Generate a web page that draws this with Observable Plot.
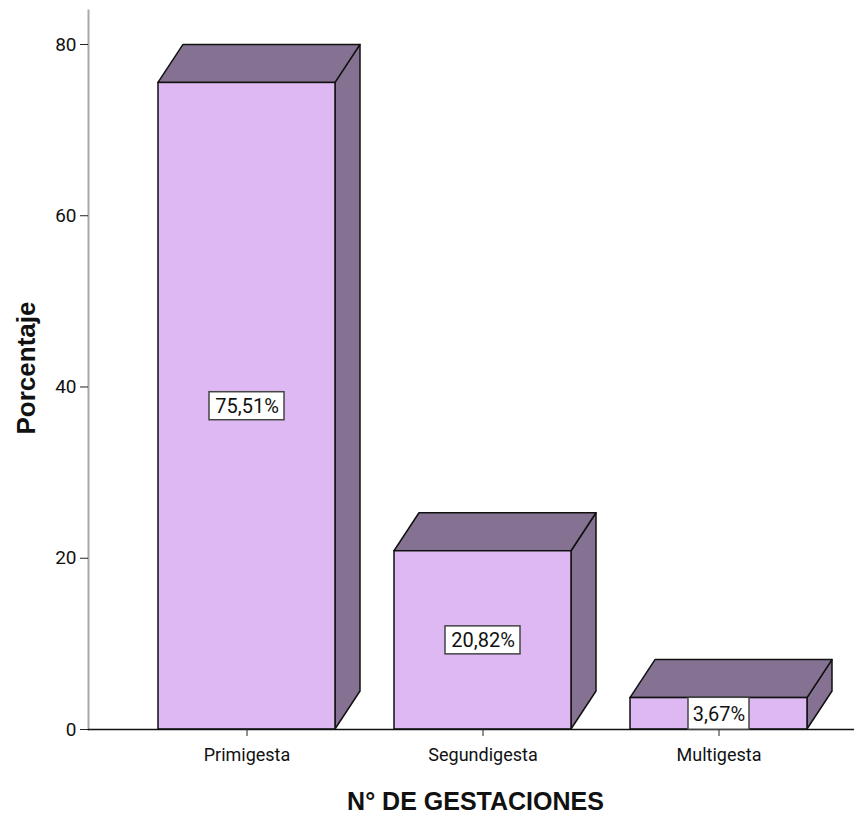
<!DOCTYPE html>
<html>
<head>
<meta charset="utf-8">
<script src="https://cdn.jsdelivr.net/npm/d3@7"></script>
<script src="https://cdn.jsdelivr.net/npm/@observablehq/plot@0.6"></script>
<style>
  html, body { margin: 0; padding: 0; background: #fff; }
  svg { display: block; }
</style>
</head>
<body>
<div id="chart"></div>
<script>
const categories = ["Primigesta", "Segundigesta", "Multigesta"];
const percentages = [75.51, 20.82, 3.67];
const valueLabels = ["75,51%", "20,82%", "3,67%"];
const yTicks = [0, 20, 40, 60, 80];
const xTitle = "N° DE GESTACIONES";
const yTitle = "Porcentaje";

const data = categories.map((c, i) => ({category: c, value: percentages[i], label: valueLabels[i]}));

const FRONT = "#ddb8f2";
const DARK = "#857292";
const DEPTH_X = 25, DEPTH_Y = -38;

// custom 3D bar mark: draws top and side faces, then the front face
function bars3d(index, scales, values, dimensions) {
  const g = d3.create("svg:g");
  const y0 = scales.y(0);
  const bw = scales.scales.x.bandwidth;
  for (const d of data) {
    const x0 = scales.x(d.category);
    const x1 = x0 + bw;
    const y1 = scales.y(d.value);
    const side = [[x1, y1], [x1 + DEPTH_X, y1 + DEPTH_Y], [x1 + DEPTH_X, y0 + DEPTH_Y], [x1, y0]];
    const top = [[x0, y1], [x0 + DEPTH_X, y1 + DEPTH_Y], [x1 + DEPTH_X, y1 + DEPTH_Y], [x1, y1]];
    for (const poly of [side, top]) {
      g.append("polygon")
        .attr("points", poly.map(p => p.join(",")).join(" "))
        .attr("fill", DARK).attr("stroke", "#111").attr("stroke-width", 1.5)
        .attr("stroke-linejoin", "round");
    }
    g.append("rect")
      .attr("x", x0).attr("y", y1).attr("width", bw).attr("height", y0 - y1)
      .attr("fill", FRONT).attr("stroke", "#111").attr("stroke-width", 1.5);
  }
  return g.node();
}

// label position: middle of the bar, kept inside the bar's bottom for short bars
function labelY(scales, d) {
  return Math.min(scales.y(d.value / 2), scales.y(0) - 15);
}

// label boxes behind the value labels
function labelBoxes(index, scales) {
  const g = d3.create("svg:g");
  const bw = scales.scales.x.bandwidth;
  for (const d of data) {
    const cx = scales.x(d.category) + bw / 2;
    const cy = labelY(scales, d);
    const w = d.label.length > 5 ? 75 : 61;
    const h = d.label.length > 5 ? 28 : 32;
    g.append("rect")
      .attr("x", cx - w / 2).attr("y", cy - h / 2).attr("width", w).attr("height", h)
      .attr("fill", "#fff").attr("stroke", "#444").attr("stroke-width", 1.5);
  }
  return g.node();
}

const chart = Plot.plot({
  width: 854,
  height: 821,
  marginTop: 10,
  marginBottom: 92,
  marginLeft: 88,
  marginRight: 0,
  style: {fontFamily: "Roboto", fontSize: "18px", color: "#111", background: "#fff"},
  x: {domain: categories, type: "band", range: [97.4, 866.4], padding: 0.252},
  y: {domain: [0, 83.97], range: [729, 10]},
  marks: [
    Plot.frame({anchor: "left", stroke: "#a8a8a8", strokeWidth: 2}),
    bars3d,
    Plot.ruleY([0], {stroke: "#111", strokeWidth: 1.5}),
    Plot.axisY({ticks: yTicks, tickSize: 8, tickPadding: 4, label: null, fontSize: 19, stroke: "#222"}),
    Plot.axisX({tickSize: 7, tickPadding: 12, label: null, fontSize: 18, stroke: "#222"}),
    labelBoxes,
    Plot.text(data, {
      x: "category",
      y: d => d.value < 5 ? 1.75 : d.value / 2,
      text: "label",
      fontSize: 20,
      fill: "#111"
    }),
    Plot.text([xTitle], {frameAnchor: "bottom", lineAnchor: "middle", dy: 72, dx: 4, fontWeight: "bold", fontSize: 25, fontFamily: "Liberation Sans", fill: "#111"}),
    Plot.text([yTitle], {frameAnchor: "left", textAnchor: "middle", lineAnchor: "middle", dx: -62, dy: -2, rotate: -90, fontWeight: "bold", fontSize: 26, fontFamily: "Liberation Sans", fill: "#111"})
  ]
});
document.getElementById("chart").append(chart);
</script>
</body>
</html>
